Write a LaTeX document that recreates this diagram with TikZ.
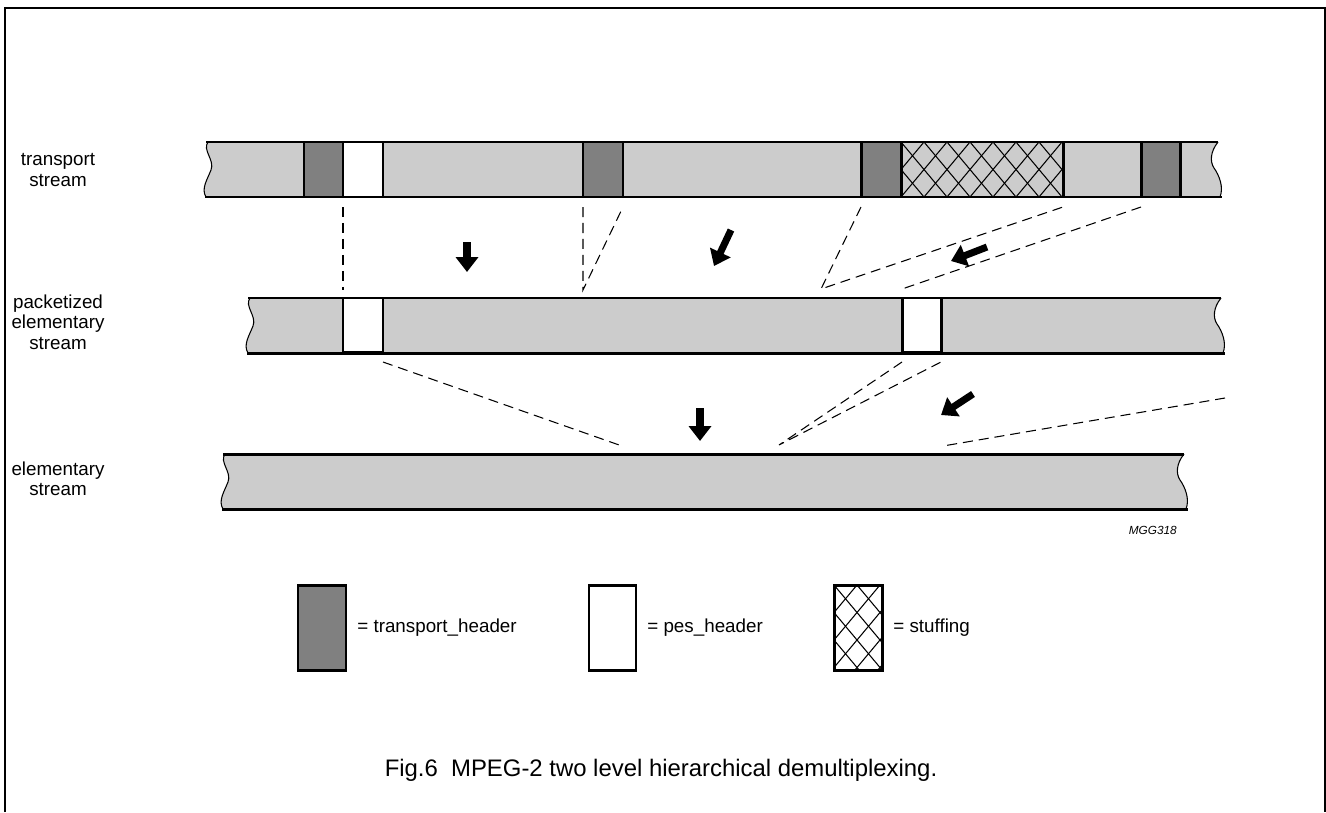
\documentclass[tikz,border=0pt]{standalone}
\usepackage{fontspec}
\setmainfont{Liberation Sans}
\usepackage{tikz}
\usetikzlibrary{arrows.meta}
\definecolor{streamgray}{HTML}{CCCCCC}
\definecolor{headgray}{HTML}{808080}
\tikzset{
    barfill/.style={fill=streamgray},
    barline/.style={draw=black, line width=1.7pt},
    waveline/.style={draw=black, line width=0.6pt},
    tsheader/.style={fill=headgray, draw=black, line width=1.7pt},
    pesheader/.style={fill=white, draw=black, line width=1.7pt},
    stuffbox/.style={draw=black, line width=1.7pt},
    hatchline/.style={draw=black, line width=0.6pt},
    cutline/.style={draw=black, dash pattern=on 5.7pt off 3.4pt, line width=0.6pt},
    demuxarrow/.style={line width=4pt, -{Triangle[length=8.5pt,width=12.5pt]}},
    streamlabel/.style={align=center, inner sep=0pt, font=\fontsize{10.7}{11.6}\selectfont},
    legendtext/.style={anchor=west, inner sep=0pt, font=\fontsize{10.7}{12}\selectfont},
    frameline/.style={draw=black, line width=1.1pt}
}
%% cross hatched stuffing area: x1 y1 x2 y2 (pixels)
\newcommand{\stuffing}[4]{%
  \begin{scope}
    \clip (#1,#2) rectangle (#3,#4);
    \foreach \k in {0,...,16}
      \draw[hatchline] (#1-92+23*\k,#2) -- ++(92,110)
                       (#1-92+23*\k,#2) -- ++(-92,110);
  \end{scope}
  \draw[stuffbox] (#1,#2) rectangle (#3,#4);}

\begin{document}
\begin{tikzpicture}[x=0.02cm, y=-0.02cm]
\useasboundingbox (0,0) rectangle (1326,812);

%% frame
\draw[frameline] (5,812) -- (5,8) -- (1325,8) -- (1325,812);

%% the three streams: name/left/right/top, all 55px high
\foreach \nm/\l/\r/\t in {ts/205/1222/142, pes/247/1225/298, es/222/1188/454} {
  \fill[barfill] (\l+3,\t) -- (\r-4,\t)
      .. controls (\r-12,\t+10) and (\r-12,\t+20) .. (\r-8,\t+26)
      .. controls (\r-3,\t+33) and (\r+2,\t+45) .. (\r-2,\t+55)
      -- (\l+1,\t+55)
      .. controls (\l-4,\t+47) and (\l+2,\t+38) .. (\l+6,\t+28)
      .. controls (\l+10,\t+18) and (\l-3,\t+8) .. (\l+3,\t) -- cycle;
}

%% transport stream packets
\draw[tsheader]  (304,142) rectangle (343,197);
\draw[pesheader] (343,142) rectangle (383,197);
\draw[tsheader]  (583,142) rectangle (623,197);
\draw[tsheader]  (861,142) rectangle (901,197);
\stuffing{901}{142}{1063}{197}
\draw[barline]   (1063,142) -- (1063,197);
\draw[tsheader]  (1141,142) rectangle (1180,197);

%% pes headers
\draw[pesheader] (343,298) rectangle (383,352);
\draw[pesheader] (902,298) rectangle (941,352);

%% outlines of the streams
\foreach \nm/\l/\r/\t in {ts/205/1222/142, pes/247/1225/298, es/222/1188/454} {
  \draw[barline] (\l+1,\t) -- (\r-4,\t) (\l,\t+55) -- (\r,\t+55);
  \draw[waveline] (\l+3,\t)
      .. controls (\l-3,\t+8) and (\l+10,\t+18) .. (\l+6,\t+28)
      .. controls (\l+2,\t+38) and (\l-4,\t+47) .. (\l+1,\t+55);
  \draw[waveline] (\r-4,\t)
      .. controls (\r-12,\t+10) and (\r-12,\t+20) .. (\r-8,\t+26)
      .. controls (\r-3,\t+33) and (\r+2,\t+45) .. (\r-2,\t+55);
}

%% stream labels
\node[streamlabel] (tslbl)  at (58,170) {transport\\stream};
\node[streamlabel] (peslbl) at (58,322) {packetized\\elementary\\stream};
\node[streamlabel] (eslbl)  at (58,479) {elementary\\stream};

%% transport -> pes
\coordinate (ts1) at (343,207);  \coordinate (pes1) at (343,290);
\coordinate (ts2) at (583,207);  \coordinate (pes2) at (583,290);
\coordinate (ts3) at (623,207);
\coordinate (ts4) at (861,207);  \coordinate (pes3) at (821,289);
\coordinate (ts5) at (1063,207);
\coordinate (ts6) at (1141,207); \coordinate (pes4) at (902,289);
\draw[cutline] (ts1) -- (pes1);
\draw[cutline] (ts2) -- (pes2) -- (ts3);
\draw[cutline] (ts4) -- (pes3) -- (ts5);
\draw[cutline] (ts6) -- (pes4);

%% pes -> elementary
\coordinate (pes5) at (383,362);  \coordinate (es1) at (622,446);
\coordinate (pes6) at (902,362);  \coordinate (es2) at (779,445);
\coordinate (pes7) at (941,362);
\coordinate (pes8) at (1225,398); \coordinate (es3) at (943,446);
\draw[cutline] (pes5) -- (es1);
\draw[cutline] (pes6) -- (es2) -- (pes7);
\draw[cutline] (pes8) -- (es3);

%% demultiplexing arrows
\draw[demuxarrow] (467,242) -- (467,272);
\draw[demuxarrow] (731,230) -- (714,266);
\draw[demuxarrow] (987,247) -- (951,261);
\draw[demuxarrow] (700,408) -- (700,441);
\draw[demuxarrow] (973,394) -- (941,415);

\node[anchor=east, inner sep=0pt, font=\fontsize{6.7}{8}\selectfont\itshape] (code) at (1177,530) {MGG318};

%% legend
\draw[tsheader]  (298,585) rectangle (346,670);
\node[legendtext] (lgts) at (357,628) {= transport\_header};
\draw[pesheader] (589,585) rectangle (636,670);
\node[legendtext] (lgpes) at (647,628) {= pes\_header};
\stuffing{834}{585}{882}{670}
\node[legendtext] (lgstuff) at (893,628) {= stuffing};

%% caption
\node[inner sep=0pt, font=\fontsize{13.6}{16}\selectfont] (caption) at (661,770)
    {Fig.6\ \ MPEG-2 two level hierarchical demultiplexing.};

\end{tikzpicture}
\end{document}
